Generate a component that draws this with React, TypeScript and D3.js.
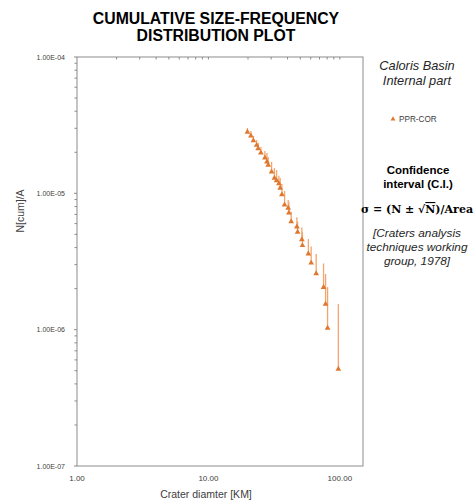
import React from "react";
import * as d3 from "d3";

const diameters = [19.8, 21.05, 21.99, 23.26, 23.91, 25.07, 26.9, 27.86, 28.5, 30.24, 31.76, 33.0, 34.36, 35.16, 36.23, 37.97, 40.45, 40.95, 42.63, 47.1, 47.68, 51.41, 51.9, 57.61, 60.49, 66.04, 75.16, 77.85, 80.63, 97.41];
const nCum = [2.793e-5, 2.62e-5, 2.419e-5, 2.235e-5, 2.113e-5, 1.965e-5, 1.806e-5, 1.688e-5, 1.6e-5, 1.426e-5, 1.284e-5, 1.231e-5, 1.17e-5, 1.085e-5, 9.72e-6, 8.17e-6, 7.73e-6, 7.13e-6, 6.16e-6, 5.63e-6, 5.16e-6, 4.54e-6, 4.11e-6, 3.57e-6, 3.06e-6, 2.56e-6, 2.03e-6, 1.53e-6, 1.02e-6, 5.1e-7];
const errTop = [3.013e-5, 2.865e-5, 2.633e-5, 2.46e-5, 2.339e-5, 2.186e-5, 2.043e-5, 1.975e-5, 1.846e-5, 1.697e-5, 1.533e-5, 1.482e-5, 1.346e-5, 1.295e-5, 1.17e-5, 1.04e-5, 8.93e-6, 8.63e-6, 7.33e-6, 6.67e-6, 6.19e-6, 5.61e-6, 5.2e-6, 4.62e-6, 4.07e-6, 3.59e-6, 3.06e-6, 2.56e-6, 2.05e-6, 1.54e-6];

const xTickValues = [1, 10, 100];
const xTickLabels = ["1.00", "10.00", "100.00"];
const yTickValues = [1e-7, 1e-6, 1e-5, 1e-4];
const yTickLabels = ["1.00E-07", "1.00E-06", "1.00E-05", "1.00E-04"];
const seriesName = "PPR-COR";

const W = 474, H = 502;
const L = 77, R = 363, T = 57, B = 466;

export default function App() {
  const x = d3.scaleLog().domain([1, 150]).range([L, R]);
  const y = d3.scaleLog().domain([1e-7, 1e-4]).range([B, T]);
  const tri = d3.symbol().type(d3.symbolTriangle).size(14);
  const triLegend = d3.symbol().type(d3.symbolTriangle).size(10);

  const xMinor: number[] = [];
  for (const dec of [1, 10]) for (let k = 2; k <= 10; k++) xMinor.push(dec * k);
  const yMinor: number[] = [];
  for (const dec of [1e-7, 1e-6, 1e-5]) for (let k = 2; k <= 9; k++) yMinor.push(dec * k);

  const font = "'Liberation Sans', Arial, sans-serif";
  const pts = diameters.map((d, i) => ({ d, n: nCum[i], e: errTop[i] }));

  return (
    <svg width={W} height={H} style={{ position: "fixed", left: 0, top: 0, background: "#fff" }} fontFamily={font}>
      <rect x={0} y={0} width={W} height={H} fill="#fff" />
      <text x={216} y={24} textAnchor="middle" fontSize={15.8} fontWeight="bold" fill="#000">CUMULATIVE SIZE-FREQUENCY</text>
      <text x={216} y={41} textAnchor="middle" fontSize={15.8} fontWeight="bold" fill="#000">DISTRIBUTION PLOT</text>

      {/* plot frame */}
      <rect x={L} y={T} width={R - L} height={B - T} fill="none" stroke="#8c8c8c" strokeWidth={1} />
      {xMinor.map((v, i) => (
        <line key={"xm" + i} x1={x(v)} x2={x(v)} y1={T} y2={T + 2.5} stroke="#8c8c8c" strokeWidth={1} />
      ))}
      {yMinor.map((v, i) => (
        <line key={"ym" + i} x1={L - 2.5} x2={L} y1={y(v)} y2={y(v)} stroke="#8c8c8c" strokeWidth={1} />
      ))}
      {yTickValues.map((v, i) => (
        <line key={"yM" + i} x1={L - 3} x2={L} y1={y(v)} y2={y(v)} stroke="#8c8c8c" strokeWidth={1} />
      ))}

      {yTickValues.map((v, i) => (
        <text key={"yl" + i} x={65} y={y(v) + 2.5} textAnchor="end" fontSize={7} fill="#404040">{yTickLabels[i]}</text>
      ))}
      {xTickValues.map((v, i) => (
        <text key={"xl" + i} x={x(v)} y={481} textAnchor="middle" fontSize={8} fill="#404040">{xTickLabels[i]}</text>
      ))}

      <text x={206} y={498} textAnchor="middle" fontSize={10.5} fill="#404040">Crater diamter [KM]</text>
      <text transform={`translate(24,211) rotate(-90)`} textAnchor="middle" fontSize={10.5} fill="#404040">N[cum]/A</text>

      {/* error bars */}
      {pts.map((p, i) => (
        <line key={"e" + i} x1={x(p.d)} x2={x(p.d)} y1={y(p.e)} y2={y(p.n)} stroke="#F2A56E" strokeWidth={1.3} />
      ))}
      {pts.map((p, i) => (
        <path key={"m" + i} d={tri() as string} transform={`translate(${x(p.d)},${y(p.n) - 0.5})`} fill="#E0772F" />
      ))}

      {/* right annotations */}
      <text x={417} y={70} textAnchor="middle" fontSize={12.8} fontStyle="italic" fill="#262626">Caloris Basin</text>
      <text x={417} y={85} textAnchor="middle" fontSize={12.8} fontStyle="italic" fill="#262626">Internal part</text>

      <path d={triLegend() as string} transform={`translate(393,119)`} fill="#E0772F" />
      <text x={399} y={122} fontSize={8.2} fill="#404040">{seriesName}</text>

      <text x={418} y={174} textAnchor="middle" fontSize={11.5} fontWeight="bold" fill="#000">Confidence</text>
      <text x={418} y={188} textAnchor="middle" fontSize={11.5} fontWeight="bold" fill="#000">interval (C.I.)</text>
      <text x={417} y={213} textAnchor="middle" fontSize={11} fontWeight="bold" fill="#000" fontFamily="'DejaVu Serif', 'Liberation Serif', serif">
        σ = (N ± √<tspan style={{ textDecoration: "overline" }}>N</tspan>)/Area
      </text>

      <text x={417} y={237} textAnchor="middle" fontSize={11.8} fontStyle="italic" fill="#262626">[Craters analysis</text>
      <text x={417} y={251} textAnchor="middle" fontSize={11.8} fontStyle="italic" fill="#262626">techniques working</text>
      <text x={417} y={265} textAnchor="middle" fontSize={11.8} fontStyle="italic" fill="#262626">group, 1978]</text>
    </svg>
  );
}
